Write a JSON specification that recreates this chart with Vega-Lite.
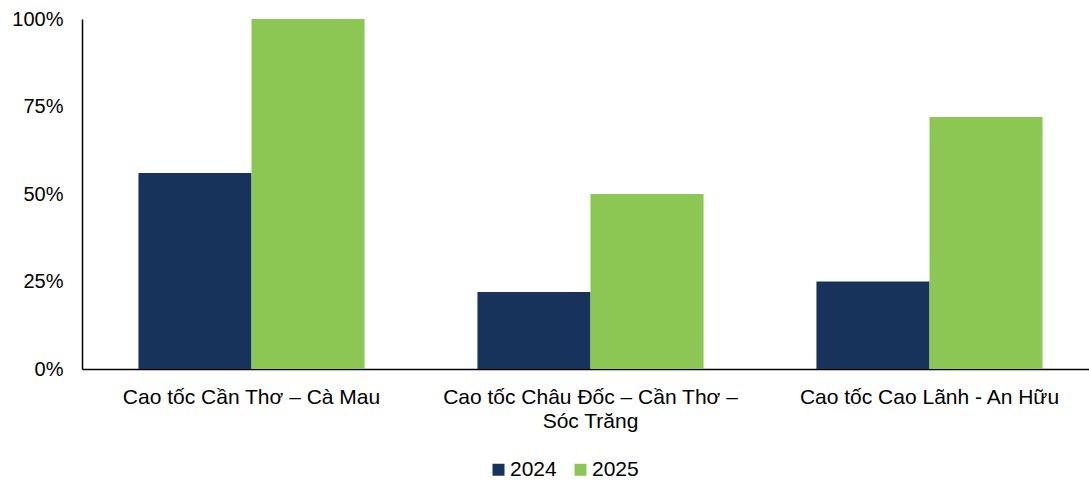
{
  "$schema": "https://vega.github.io/schema/vega-lite/v6.json",
  "width": 1017,
  "height": 350,
  "autosize": {"type": "none"},
  "padding": {"left": 82, "top": 19, "right": 0, "bottom": 112},
  "background": "white",
  "config": {
    "view": {"stroke": null},
    "font": "Liberation Sans",
    "axis": {"grid": false, "ticks": false, "domainColor": "#000000", "domainWidth": 1.5, "labelColor": "#000000", "labelFontSize": 20, "titleFontSize": 20, "labelLimit": 0}
  },
  "data": {
    "values": [
      {"route": "Cao tốc Cần Thơ – Cà Mau", "year": "2024", "value": 0.56},
      {"route": "Cao tốc Cần Thơ – Cà Mau", "year": "2025", "value": 1.0},
      {"route": "Cao tốc Châu Đốc – Cần Thơ –|Sóc Trăng", "year": "2024", "value": 0.22},
      {"route": "Cao tốc Châu Đốc – Cần Thơ –|Sóc Trăng", "year": "2025", "value": 0.5},
      {"route": "Cao tốc Cao Lãnh - An Hữu", "year": "2024", "value": 0.25},
      {"route": "Cao tốc Cao Lãnh - An Hữu", "year": "2025", "value": 0.72}
    ]
  },
  "mark": {"type": "bar"},
  "encoding": {
    "x": {
      "field": "route",
      "type": "nominal",
      "sort": null,
      "title": null,
      "scale": {"paddingInner": 0.333, "paddingOuter": 0.1665},
      "axis": {"labelAngle": 0, "labelPadding": 17, "labelFontSize": 21, "labelExpr": "split(datum.label, '|')", "labelLineHeight": 24, "labelBaseline": "top"}
    },
    "xOffset": {"field": "year", "type": "nominal", "scale": {"paddingInner": 0, "paddingOuter": 0}},
    "y": {
      "field": "value",
      "type": "quantitative",
      "title": null,
      "scale": {"domain": [0, 1], "nice": false},
      "axis": {"values": [0, 0.25, 0.5, 0.75, 1], "format": ".0%", "labelPadding": 19}
    },
    "color": {
      "field": "year",
      "type": "nominal",
      "title": null,
      "scale": {"domain": ["2024", "2025"], "range": ["#17335B", "#8CC753"]},
      "legend": {
        "orient": "none",
        "direction": "horizontal",
        "legendX": 406,
        "legendY": 440,
        "symbolType": "square",
        "symbolSize": 144,
        "symbolStrokeWidth": 0,
        "labelFontSize": 21,
        "labelColor": "#000000",
        "columnPadding": 13,
        "labelOffset": 1
      }
    }
  }
}
